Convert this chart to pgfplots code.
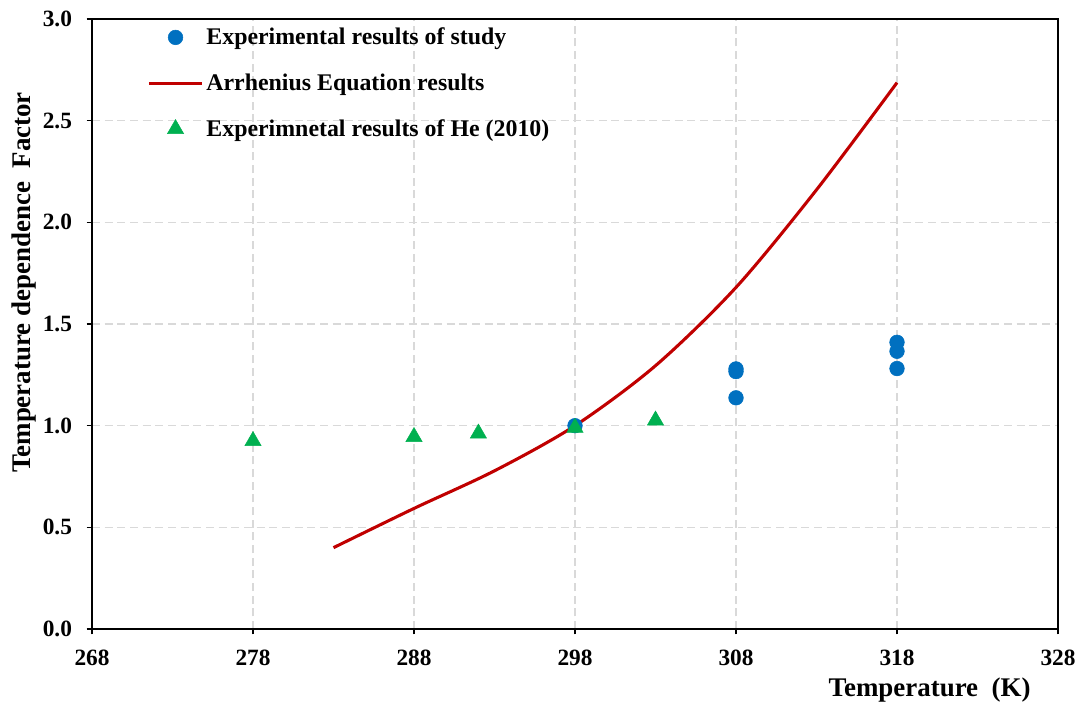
\documentclass[border=0pt]{standalone}
\usepackage{fontspec}
\setmainfont{Liberation Serif}
\usepackage{pgfplots}
\pgfplotsset{compat=1.18}
\definecolor{cblue}{HTML}{0070C0}
\definecolor{cred}{HTML}{C00000}
\definecolor{cgreen}{HTML}{00B050}
\definecolor{cgrid}{HTML}{D9D9D9}
\begin{document}
\begin{tikzpicture}
\begin{axis}[
 name=ax,
 scale only axis,
 width=724.5pt, height=457.5pt,
 xmin=268, xmax=328, ymin=0, ymax=3,
 xtick={268,278,288,298,308,318,328},
 ytick={0,0.5,1,1.5,2,2.5,3},
 axis line style={line width=1.8pt},
 tick style={line width=1.2pt, black},
 tick align=outside,
 xtick pos=left, ytick pos=left,
 major tick length=4pt,
 grid=major,
 major grid style={cgrid, line width=1.1pt, dash pattern=on 6pt off 3.5pt},
 /pgf/number format/assume math mode=true,
 y tick label style={/pgf/number format/fixed, /pgf/number format/fixed zerofill, /pgf/number format/precision=1, xshift=-7.5pt},
 tick label style={font=\fontsize{17.5}{20}\selectfont\bfseries},
 x tick label style={yshift=-8.25pt},
 xlabel={Temperature\ \ (K)},
 ylabel={Temperature dependence\ \ Factor},
 label style={font=\fontsize{20.2}{24}\selectfont\bfseries},
 xlabel style={at={(axis description cs:0.867,-0.1)}, anchor=center},
 ylabel style={at={(axis description cs:-0.07,0.568)}, anchor=center},
 legend style={draw=none, fill=none, inner sep=0pt, at={(axis description cs:0.057,0.99)}, anchor=north west,
   font=\fontsize{17.9}{21}\selectfont\bfseries, row sep=16.3pt, nodes={inner sep=2pt}},
 legend cell align=left,
 legend image code/.code={\draw[mark repeat=2,mark phase=2] plot coordinates {(0pt,0pt)(20pt,0pt)(40pt,0pt)};},
]
\addplot[only marks, mark=*, mark size=5.5pt, color=cblue, mark options={draw=cblue, fill=cblue}] coordinates {
(298,1.00) (308,1.279) (308,1.266) (308,1.137) (318,1.41) (318,1.366) (318,1.281)};
\addlegendentry{Experimental results of study}
\addplot[color=cred, line width=2.3pt, smooth, no markers] coordinates {
(283,0.40) (288,0.593) (293,0.778) (298,1.00) (303,1.295) (308,1.68) (313,2.16) (318,2.687)};
\addlegendentry{Arrhenius Equation results}
\addplot[only marks, mark=triangle*, mark size=7pt, color=cgreen, mark options={draw=cgreen, fill=cgreen}] coordinates {
(278,0.925) (288,0.945) (292,0.962) (298,0.99) (303,1.026)};
\addlegendentry{Experimnetal results of He (2010)}
\end{axis}
\pgfresetboundingbox
\path ([shift={(-69pt,-61.5pt)}]ax.south west) rectangle ([shift={(15.75pt,14.25pt)}]ax.north east);
\end{tikzpicture}
\end{document}
